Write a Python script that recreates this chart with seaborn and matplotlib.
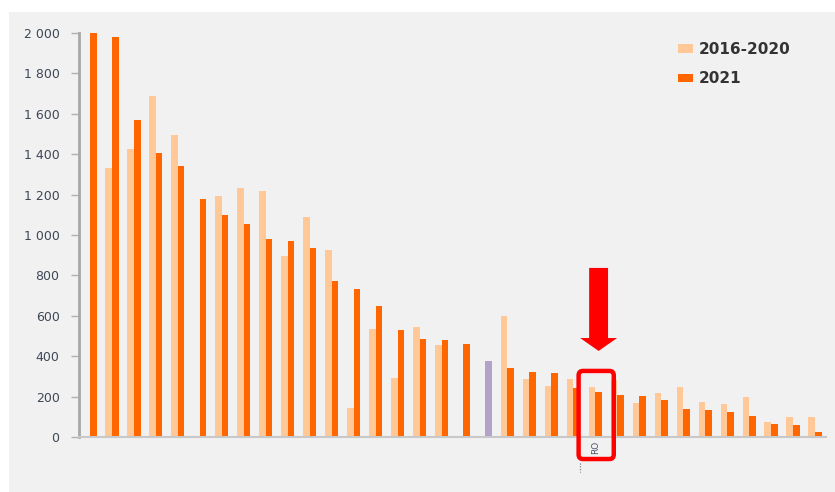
import numpy as np
import pandas as pd
import matplotlib
matplotlib.use("Agg")
import matplotlib.pyplot as plt
from matplotlib.patches import Rectangle, FancyArrow, FancyBboxPatch
from matplotlib.ticker import FuncFormatter
import seaborn as sns

# ---- data -------------------------------------------------------------
categories = [f"K{i:02d}" for i in range(1, 35)]
highlight_label = "RO"
highlight_index = 23
reference_index = 18

avg_2016_2020 = [np.nan, 1330, 1424, 1690, 1494, np.nan, 1195, 1233, 1218, 896,
                 1091, 924, 145, 533, 294, 543, 455, np.nan, np.nan, 601,
                 287, 252, 285, 246, 280, 168, 218, 246, 174, 165,
                 200, 74, 101, 99]
val_2021 = [2000, 1979, 1568, 1408, 1343, 1180, 1099, 1054, 982, 970,
            937, 772, 733, 650, 530, 487, 479, 462, 376, 343,
            320, 315, 241, 224, 206, 205, 185, 140, 135, 122,
            102, 63, 61, 23]
series_names = ["2016-2020", "2021"]
y_ticks = list(range(0, 2001, 200))

# ---- styling ------------------------------------------------------------
c_light = "#ffc896"
c_dark = "#ff6600"
c_purple = "#b3a2c9"
panel = "#f1f1f1"

sns.set_theme(style="white")
plt.rcParams["font.family"] = ["DejaVu Sans"]

df = pd.DataFrame({
    "cat": categories * 2,
    "series": [series_names[0]] * len(categories) + [series_names[1]] * len(categories),
    "value": list(avg_2016_2020) + list(val_2021),
}).dropna()

fig = plt.figure(figsize=(8.35, 4.92), dpi=100)
fig.patch.set_facecolor("white")
fig.patches.append(Rectangle((9 / 835, 0), 1, 480 / 492, transform=fig.transFigure,
                             facecolor=panel, edgecolor="none", zorder=-10))

ax = fig.add_axes([79 / 835, 55 / 492, 747 / 835, 404 / 492])
ax.set_facecolor("none")

sns.barplot(data=df, x="cat", y="value", hue="series", order=categories,
            hue_order=series_names, palette=[c_light, c_dark], width=0.6,
            saturation=1, errorbar=None, linewidth=0, ax=ax)

# one reference bar is shown in a different colour
ax.containers[1][reference_index].set_facecolor(c_purple)

ax.set_ylim(0, 2000)
ax.set_xlim(-0.5, len(categories) - 0.5)
ax.set_yticks(y_ticks)
ax.yaxis.set_major_formatter(FuncFormatter(lambda v, p: f"{int(v):,}".replace(",", " ")))
ax.tick_params(axis="y", which="major", direction="out", length=6, width=1,
               color="#b0b0b0", labelsize=9, labelcolor="#3e4756", pad=8, left=True)
ax.set_xticks([highlight_index])
ax.set_xticklabels([highlight_label], rotation=90, fontsize=6.5, color="#4a5566")
ax.tick_params(axis="x", length=0, pad=3)
ax.set_xlabel("")
ax.set_ylabel("")

for s in ["top", "right"]:
    ax.spines[s].set_visible(False)
ax.spines["left"].set_color("#a8a8a8")
ax.spines["left"].set_linewidth(2)
ax.spines["bottom"].set_color("#c8c8c8")
ax.spines["bottom"].set_linewidth(1.5)

# legend
handles, labels = ax.get_legend_handles_labels()
leg = ax.legend(handles, labels, loc="upper left", bbox_to_anchor=(0.802, 0.978),
                frameon=False, borderpad=0, borderaxespad=0, handlelength=1.0,
                handleheight=0.45, handletextpad=0.35, labelspacing=0.95,
                prop={"weight": "bold", "size": 11})
for t in leg.get_texts():
    t.set_color("#333333")

# highlight: arrow and rounded frame around one category
ax.add_patch(FancyArrow(highlight_index + 0.15, 837, 0, -(837 - 426), width=0.86,
                        head_width=1.68, head_length=64, length_includes_head=True,
                        color="#ff0000", linewidth=0, zorder=5, clip_on=False))
x_per_px = 1 / 21.97
y_per_px = 2000 / 404
ax.add_patch(FancyBboxPatch((highlight_index - 0.76, -109), 1.6, 436,
                            boxstyle="round,pad=0,rounding_size=0.2",
                            mutation_aspect=y_per_px / x_per_px,
                            facecolor="none", edgecolor="#ff0000", linewidth=3.2,
                            zorder=6, clip_on=False))
ax.plot([highlight_index - 0.68] * 2, [-130, -175], linestyle=(0, (1, 1.5)),
        color="#6a7080", linewidth=0.8, clip_on=False)

fig.savefig("out.png", dpi=100, facecolor=fig.get_facecolor())
